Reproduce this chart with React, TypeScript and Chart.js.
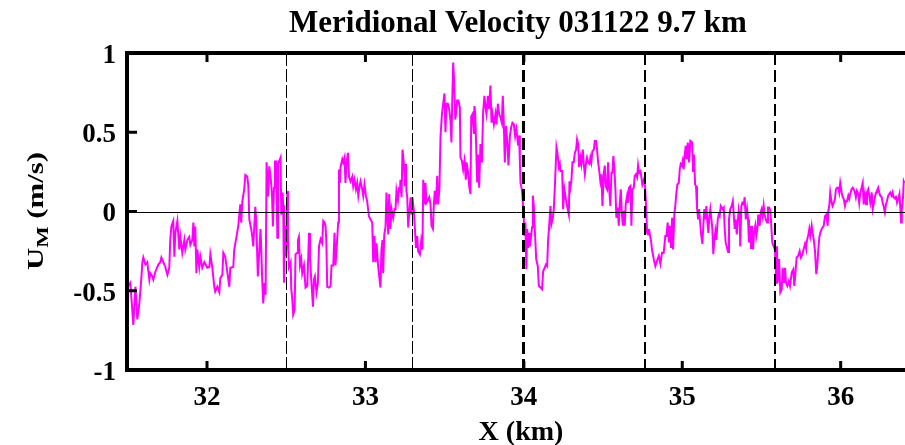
import React, { useEffect, useRef } from "react";
import { Chart, registerables } from "chart.js";

Chart.register(...registerables);

// ---- text ----
const TITLE = "Meridional Velocity 031122 9.7 km";
const X_LABEL = "X (km)";
const Y_LABEL_MAIN = "U";
const Y_LABEL_SUB = "M";
const Y_LABEL_REST = " (m/s)";

// ---- axes ----
const X_MIN = 31.495;
const X_MAX = 36.406;
const Y_MIN = -1;
const Y_MAX = 1;
const xTicks = [32, 33, 34, 35, 36];
const yTicks = [-1, -0.5, 0, 0.5, 1];

// leg boundaries (km) drawn as dashed vertical lines
const legBoundaries = [32.498, 33.294, 33.997, 34.765, 35.585];

// ---- data: [X (km), U_M (m/s)] by leg ----
const leg1: [number, number][] = [
  [31.503, -0.47], [31.516, -0.45], [31.535, -0.715], [31.548, -0.475], [31.56, -0.68], [31.573, -0.58],
  [31.585, -0.43], [31.592, -0.32], [31.598, -0.29], [31.611, -0.335], [31.623, -0.32], [31.636, -0.43],
  [31.642, -0.39], [31.655, -0.41], [31.661, -0.43], [31.674, -0.38], [31.693, -0.335], [31.705, -0.32],
  [31.712, -0.29], [31.724, -0.32], [31.737, -0.35], [31.75, -0.4], [31.762, -0.355], [31.768, -0.18],
  [31.775, -0.095], [31.787, -0.06], [31.794, -0.285], [31.8, -0.135], [31.813, -0.06], [31.825, -0.24],
  [31.832, -0.16], [31.844, -0.26], [31.857, -0.18], [31.863, -0.24], [31.876, -0.18], [31.888, -0.16],
  [31.895, -0.21], [31.907, -0.18], [31.914, -0.07], [31.92, -0.22], [31.926, -0.095], [31.933, -0.39],
  [31.939, -0.24], [31.951, -0.35], [31.958, -0.285], [31.97, -0.355], [31.983, -0.32], [32.002, -0.355],
  [32.015, -0.35], [32.021, -0.27], [32.033, -0.35], [32.046, -0.475], [32.052, -0.505], [32.065, -0.475],
  [32.078, -0.51], [32.084, -0.42], [32.097, -0.4], [32.103, -0.26], [32.115, -0.285], [32.141, -0.475],
  [32.147, -0.355], [32.166, -0.35], [32.172, -0.24], [32.185, -0.165], [32.197, -0.095], [32.21, 0.045],
  [32.216, -0.07], [32.223, 0.065], [32.235, 0.14], [32.242, 0.23], [32.254, 0.22], [32.261, 0.16],
  [32.267, -0.05], [32.279, -0.11], [32.286, -0.16], [32.292, -0.22], [32.305, 0.03], [32.311, -0.07],
  [32.321, -0.41], [32.338, -0.11], [32.344, -0.285], [32.349, -0.45], [32.355, -0.58], [32.363, -0.45],
  [32.37, -0.525], [32.376, 0.31], [32.385, 0.095], [32.393, 0.285], [32.401, 0.22], [32.41, 0.12],
  [32.416, -0.095], [32.423, 0.15], [32.429, 0.315], [32.437, 0.315], [32.444, -0.165], [32.448, 0.3],
  [32.456, 0.32], [32.464, 0.34], [32.469, -0.02], [32.477, 0.12], [32.481, 0.04], [32.486, -0.45],
  [32.49, -0.09],
];

const leg2: [number, number][] = [
  [32.499, -0.285], [32.507, 0.13], [32.511, -0.16], [32.517, -0.35], [32.528, -0.32], [32.532, -0.49],
  [32.538, -0.55], [32.544, -0.65], [32.553, -0.62], [32.559, -0.27], [32.57, -0.26], [32.574, -0.18],
  [32.58, -0.16], [32.587, -0.34], [32.595, -0.3], [32.601, -0.39], [32.612, -0.34], [32.622, -0.48],
  [32.633, -0.47], [32.644, -0.135], [32.65, -0.285], [32.658, -0.43], [32.669, -0.6], [32.675, -0.43],
  [32.681, -0.41], [32.691, -0.51], [32.7, -0.45], [32.707, -0.22], [32.717, -0.175], [32.727, -0.2],
  [32.734, -0.06], [32.742, -0.07], [32.748, -0.09], [32.753, -0.18], [32.759, -0.475], [32.77, -0.48],
  [32.78, -0.47], [32.786, -0.34], [32.797, -0.34], [32.805, -0.135], [32.811, -0.34], [32.818, -0.24],
  [32.828, -0.07], [32.833, 0.265], [32.839, 0.18], [32.843, 0.28], [32.854, 0.33], [32.86, 0.31],
  [32.868, 0.34], [32.874, 0.18], [32.881, 0.31], [32.89, 0.37], [32.896, 0.22], [32.906, 0.19],
  [32.917, 0.22], [32.923, 0.16], [32.931, 0.2], [32.94, 0.14], [32.948, 0.18], [32.955, 0.1],
  [32.963, 0.16], [32.969, 0.19], [32.98, 0.14], [32.986, 0.1], [32.994, 0.17], [33.003, 0.1],
  [33.011, 0.065], [33.022, -0.03], [33.032, -0.05], [33.043, -0.07], [33.049, -0.32], [33.057, -0.155],
  [33.064, -0.32], [33.07, -0.2], [33.079, -0.33], [33.085, -0.39], [33.095, -0.48], [33.101, -0.24],
  [33.108, -0.18], [33.112, -0.39], [33.119, -0.145], [33.127, -0.095], [33.133, 0.12], [33.144, -0.145],
  [33.15, 0.11], [33.158, -0.11], [33.165, 0.015], [33.175, -0.04], [33.184, 0.015], [33.19, 0.015],
  [33.196, 0.13], [33.205, 0.07], [33.211, 0.14], [33.218, 0.13], [33.221, 0.2], [33.228, 0.09],
  [33.234, 0.39], [33.243, 0.3], [33.249, 0.16], [33.256, 0.3], [33.259, 0.13], [33.264, 0.09],
  [33.27, -0.1], [33.276, -0.02], [33.285, 0.09], [33.291, -0.02],
];

const leg3: [number, number][] = [
  [33.297, 0.09], [33.306, 0.005], [33.312, -0.1], [33.319, -0.23], [33.327, -0.155], [33.333, -0.25],
  [33.344, -0.27], [33.352, -0.185], [33.36, -0.24], [33.365, 0.2], [33.373, 0.045], [33.379, 0.18],
  [33.385, 0.055], [33.394, 0.07], [33.403, 0.09], [33.411, 0.045], [33.417, -0.09], [33.426, -0.11],
  [33.432, 0.045], [33.438, 0.13], [33.445, 0.045], [33.453, 0.225], [33.459, 0.045], [33.467, 0.14],
  [33.474, 0.47], [33.483, 0.615], [33.491, 0.68], [33.499, 0.745], [33.505, 0.5], [33.512, 0.68],
  [33.52, 0.68], [33.529, 0.645], [33.537, 0.57], [33.543, 0.435], [33.549, 0.74], [33.554, 0.94],
  [33.56, 0.825], [33.567, 0.58], [33.573, 0.625], [33.579, 0.7], [33.587, 0.7], [33.596, 0.655],
  [33.6, 0.34], [33.609, 0.32], [33.617, 0.265], [33.625, 0.32], [33.634, 0.2], [33.638, 0.31],
  [33.647, 0.255], [33.655, 0.16], [33.663, 0.11], [33.668, 0.6], [33.676, 0.615], [33.685, 0.49],
  [33.688, 0.665], [33.693, 0.615], [33.699, 0.415], [33.705, 0.19], [33.71, 0.36], [33.718, 0.15],
  [33.726, 0.425], [33.735, 0.31], [33.743, 0.625], [33.751, 0.73], [33.758, 0.655], [33.764, 0.615],
  [33.773, 0.73], [33.781, 0.645], [33.789, 0.795], [33.796, 0.56], [33.802, 0.615], [33.811, 0.55],
  [33.821, 0.615], [33.827, 0.55], [33.836, 0.68], [33.844, 0.615], [33.852, 0.595], [33.861, 0.56],
  [33.867, 0.73], [33.874, 0.54], [33.88, 0.31], [33.888, 0.54], [33.895, 0.445], [33.903, 0.29],
  [33.912, 0.475], [33.92, 0.53], [33.928, 0.56], [33.937, 0.55], [33.945, 0.475], [33.953, 0.52],
  [33.964, 0.415], [33.97, 0.48], [33.975, 0.31], [33.979, 0.18], [33.987, 0.14], [33.991, 0.1],
];

const leg4: [number, number][] = [
  [34.0, -0.05], [34.004, -0.155], [34.01, -0.07], [34.016, -0.365], [34.021, -0.11], [34.027, -0.23],
  [34.033, -0.135], [34.038, -0.22], [34.046, -0.155], [34.052, -0.1], [34.057, 0.1], [34.063, 0.035],
  [34.069, -0.11], [34.078, -0.3], [34.088, -0.345], [34.095, -0.47], [34.105, -0.48], [34.115, -0.49],
  [34.122, -0.375], [34.13, -0.36], [34.139, -0.335], [34.147, -0.345], [34.153, -0.185], [34.16, -0.09],
  [34.168, 0.035], [34.174, -0.08], [34.183, -0.04], [34.189, 0.015], [34.196, 0.16], [34.202, 0.31],
  [34.206, 0.405], [34.212, 0.37], [34.221, 0.28], [34.227, 0.3], [34.231, 0.255], [34.242, 0.255],
  [34.248, 0.015], [34.256, 0.14], [34.265, 0.08], [34.273, 0.035], [34.284, -0.02], [34.288, 0.19],
  [34.294, 0.15], [34.3, 0.19], [34.307, 0.31], [34.315, 0.31], [34.322, 0.37], [34.33, 0.39],
  [34.336, 0.455], [34.343, 0.425], [34.349, 0.28], [34.357, 0.34], [34.363, 0.3], [34.372, 0.39],
  [34.379, 0.29], [34.385, 0.235], [34.393, 0.31], [34.399, 0.34], [34.406, 0.31], [34.414, 0.3],
  [34.42, 0.34], [34.426, 0.31], [34.433, 0.38], [34.442, 0.39], [34.448, 0.445], [34.456, 0.445],
  [34.462, 0.39], [34.469, 0.31], [34.475, 0.265], [34.483, 0.19], [34.49, 0.235], [34.496, 0.035],
  [34.505, 0.245], [34.511, 0.29], [34.517, 0.16], [34.526, 0.14], [34.532, 0.31], [34.538, 0.16],
  [34.546, 0.035], [34.553, 0.245], [34.559, 0.245], [34.565, 0.35], [34.572, 0.265], [34.578, 0.14],
  [34.584, -0.04], [34.593, 0.025], [34.599, -0.09], [34.606, 0.055], [34.612, 0.14], [34.618, -0.005],
  [34.625, -0.09], [34.631, 0.005], [34.637, -0.09], [34.643, 0.045], [34.652, 0.1], [34.658, 0.055],
  [34.664, 0.15], [34.673, 0.16], [34.679, -0.09], [34.685, 0.14], [34.694, 0.15], [34.7, 0.225],
  [34.707, 0.235], [34.715, 0.215], [34.721, 0.29], [34.727, 0.245], [34.736, 0.255], [34.742, 0.215],
  [34.748, 0.17], [34.757, 0.2], [34.765, 0.16],
];

const leg5: [number, number][] = [
  [34.773, 0.015], [34.778, -0.135], [34.784, -0.145], [34.79, -0.11], [34.797, -0.155], [34.803, -0.185],
  [34.809, -0.24], [34.82, -0.3], [34.83, -0.345], [34.841, -0.31], [34.852, -0.28], [34.862, -0.33],
  [34.872, -0.26], [34.883, -0.26], [34.893, -0.155], [34.9, -0.155], [34.908, -0.07], [34.915, -0.195],
  [34.921, -0.09], [34.929, -0.23], [34.936, -0.04], [34.942, -0.24], [34.95, -0.02], [34.956, 0.035],
  [34.963, 0.12], [34.969, 0.17], [34.978, 0.18], [34.984, 0.265], [34.99, 0.3], [34.997, 0.29],
  [35.003, 0.32], [35.009, 0.265], [35.016, 0.36], [35.022, 0.415], [35.028, 0.33], [35.035, 0.435],
  [35.043, 0.31], [35.051, 0.445], [35.062, 0.435], [35.068, 0.255], [35.074, 0.36], [35.081, 0.17],
  [35.087, 0.16], [35.093, 0.025], [35.1, -0.05], [35.106, 0.015], [35.112, -0.06], [35.119, -0.145],
  [35.127, -0.205], [35.133, -0.09], [35.139, 0.015], [35.146, -0.05], [35.152, 0.035], [35.158, -0.06],
  [35.165, -0.135], [35.171, -0.03], [35.177, 0.015], [35.184, -0.05], [35.19, -0.11], [35.196, -0.27],
  [35.202, -0.18], [35.209, -0.125], [35.215, -0.18], [35.224, -0.05], [35.23, -0.02], [35.236, -0.03],
  [35.243, 0.035], [35.249, 0.025], [35.255, 0.015], [35.262, 0.025], [35.268, -0.11], [35.274, -0.195],
  [35.283, -0.23], [35.289, -0.255], [35.295, -0.05], [35.303, 0.015], [35.312, 0.035], [35.319, 0.065],
  [35.325, -0.02], [35.331, -0.11], [35.337, -0.05], [35.344, -0.145], [35.35, -0.07], [35.356, 0.005],
  [35.363, -0.05], [35.366, -0.22], [35.373, 0.035], [35.379, 0.055], [35.388, 0.045], [35.394, 0.09],
  [35.401, -0.05], [35.409, 0.015], [35.415, -0.05], [35.421, -0.195], [35.428, -0.09], [35.434, -0.23],
  [35.44, -0.09], [35.447, -0.24], [35.453, -0.135], [35.461, -0.09], [35.467, -0.155], [35.474, -0.11],
  [35.48, -0.02], [35.489, -0.09], [35.495, -0.005], [35.501, 0.015], [35.508, -0.03], [35.514, 0.035],
  [35.52, -0.02], [35.527, -0.05], [35.535, -0.07], [35.541, 0.025], [35.548, 0.025], [35.556, 0.005],
  [35.562, -0.09], [35.568, -0.195], [35.577, -0.22], [35.585, -0.24],
];

const leg6: [number, number][] = [
  [35.594, -0.45], [35.598, -0.22], [35.602, -0.45], [35.611, -0.3], [35.619, -0.51], [35.628, -0.49],
  [35.634, -0.355], [35.642, -0.45], [35.649, -0.355], [35.655, -0.45], [35.663, -0.47], [35.672, -0.44],
  [35.68, -0.47], [35.691, -0.385], [35.701, -0.365], [35.707, -0.47], [35.714, -0.395], [35.722, -0.29],
  [35.732, -0.28], [35.741, -0.25], [35.749, -0.29], [35.758, -0.27], [35.766, -0.24], [35.775, -0.205],
  [35.781, -0.23], [35.787, -0.185], [35.796, -0.145], [35.802, -0.11], [35.808, -0.155], [35.817, -0.09],
  [35.823, -0.135], [35.831, -0.185], [35.838, -0.25], [35.846, -0.395], [35.852, -0.345], [35.859, -0.24],
  [35.865, -0.165], [35.871, -0.135], [35.88, -0.11], [35.886, -0.1], [35.893, -0.09], [35.901, -0.03],
  [35.909, -0.02], [35.918, -0.09], [35.922, 0.005], [35.928, 0.035], [35.934, 0.12], [35.943, 0.055],
  [35.949, 0.035], [35.956, 0.055], [35.964, 0.08], [35.97, 0.14], [35.977, 0.15], [35.985, 0.15],
  [35.991, 0.12], [35.997, 0.18], [36.006, 0.12], [36.013, 0.09], [36.019, 0.08], [36.027, 0.035],
  [36.033, 0.065], [36.04, 0.065], [36.048, 0.1], [36.054, 0.08], [36.06, 0.11], [36.069, 0.14],
  [36.076, 0.15], [36.082, 0.14], [36.09, 0.12], [36.096, 0.09], [36.103, 0.13], [36.111, 0.11],
  [36.117, 0.055], [36.124, 0.12], [36.132, 0.15], [36.139, 0.18], [36.145, 0.045], [36.153, 0.11],
  [36.16, 0.045], [36.166, 0.12], [36.174, 0.14], [36.18, 0.1], [36.187, 0.055], [36.196, 0.12],
  [36.202, 0.015], [36.208, 0.045], [36.216, 0.09], [36.223, 0.12], [36.229, 0.13], [36.237, 0.15],
  [36.243, 0.12], [36.25, 0.1], [36.259, 0.09], [36.265, 0.055], [36.271, 0.035], [36.279, -0.005],
  [36.286, 0.045], [36.292, 0.065], [36.3, 0.1], [36.306, 0.11], [36.313, 0.12], [36.322, 0.1],
  [36.328, 0.12], [36.334, 0.09], [36.343, 0.08], [36.349, 0.1], [36.356, 0.055], [36.364, 0.08],
  [36.371, 0.11], [36.377, 0.015], [36.381, -0.07], [36.386, 0.015], [36.393, 0.08], [36.398, 0.19],
  [36.402, 0.18],
];

const legs = [leg1, leg2, leg3, leg4, leg5, leg6];

const FONT = "'Liberation Serif', 'Times New Roman', serif";

const decorPlugin = {
  id: "decor",
  afterDatasetsDraw(chart: any) {
    const { ctx, chartArea: a, scales } = chart;
    const xs = scales.x;
    const ys = scales.y;
    ctx.save();
    ctx.strokeStyle = "#000";

    // zero line
    const y0 = Math.round(ys.getPixelForValue(0)) + 0.5;
    ctx.lineWidth = 1;
    ctx.beginPath();
    ctx.moveTo(a.left, y0);
    ctx.lineTo(a.right + 10, y0);
    ctx.stroke();

    // dashed leg boundaries
    const widths = [1, 1, 3, 2, 2];
    legBoundaries.forEach((b, i) => {
      const w = widths[i];
      const px = Math.round(xs.getPixelForValue(b)) + (w % 2 ? 0.5 : 0);
      ctx.lineWidth = w;
      ctx.setLineDash(w === 1 ? [13, 3] : [12, 5]);
      ctx.beginPath();
      ctx.moveTo(px, a.top);
      ctx.lineTo(px, a.bottom);
      ctx.stroke();
    });
    ctx.setLineDash([]);

    // frame (right edge lies just outside the picture)
    ctx.lineWidth = 4;
    ctx.beginPath();
    ctx.moveTo(a.right + 10, a.top);
    ctx.lineTo(a.left, a.top);
    ctx.lineTo(a.left, a.bottom);
    ctx.lineTo(a.right + 10, a.bottom);
    ctx.stroke();

    // inward tick marks
    ctx.lineWidth = 3;
    xTicks.forEach((v) => {
      const px = xs.getPixelForValue(v);
      ctx.beginPath();
      ctx.moveTo(px, a.bottom);
      ctx.lineTo(px, a.bottom - 9);
      ctx.moveTo(px, a.top);
      ctx.lineTo(px, a.top + 9);
      ctx.stroke();
    });
    yTicks.forEach((v) => {
      const py = ys.getPixelForValue(v);
      ctx.beginPath();
      ctx.moveTo(a.left, py);
      ctx.lineTo(a.left + 10, py);
      ctx.stroke();
    });
    ctx.restore();
  },
  afterDraw(chart: any) {
    const { ctx, chartArea: a } = chart;
    ctx.save();
    ctx.fillStyle = "#000";
    const cx = (a.left + a.right) / 2 + 2;

    // title
    ctx.font = `bold 31px ${FONT}`;
    ctx.textAlign = "center";
    ctx.textBaseline = "alphabetic";
    ctx.fillText(TITLE, cx, 32);

    // x label
    ctx.font = `bold 28px ${FONT}`;
    ctx.fillText(X_LABEL, cx + 3, 440);

    // y label (rotated, with subscript)
    const mainFont = `bold 23px ${FONT}`;
    const subFont = `bold 17px ${FONT}`;
    ctx.font = mainFont;
    const wU = ctx.measureText(Y_LABEL_MAIN).width;
    const wRest = ctx.measureText(Y_LABEL_REST).width;
    ctx.font = subFont;
    const wM = ctx.measureText(Y_LABEL_SUB).width;
    const total = wU + wM + wRest;
    const stretch = 118 / total;
    ctx.translate(43, 211);
    ctx.rotate(-Math.PI / 2);
    ctx.scale(stretch, 1);
    ctx.textAlign = "left";
    let xx = -total / 2;
    ctx.font = mainFont;
    ctx.fillText(Y_LABEL_MAIN, xx, 0);
    xx += wU;
    ctx.font = subFont;
    ctx.fillText(Y_LABEL_SUB, xx, 5);
    xx += wM;
    ctx.font = mainFont;
    ctx.fillText(Y_LABEL_REST, xx, 0);
    ctx.restore();
  },
};

export default function App() {
  const ref = useRef<HTMLCanvasElement | null>(null);

  useEffect(() => {
    document.body.style.margin = "0";
    document.body.style.overflow = "hidden";
    const canvas = ref.current;
    if (!canvas) return;
    const points = legs.flat().map(([x, y]) => ({ x, y }));
    const tickFont = { family: FONT, weight: "bold" as const, size: 27 };
    const chart = new Chart(canvas, {
      type: "line",
      data: {
        datasets: [
          {
            data: points,
            borderColor: "#ff00ff",
            borderWidth: 2,
            pointRadius: 0,
            tension: 0,
            fill: false,
          },
        ],
      },
      options: {
        animation: false,
        responsive: false,
        devicePixelRatio: 1,
        parsing: false,
        layout: { padding: { top: 53, right: 0, left: 0, bottom: 0 } },
        plugins: {
          legend: { display: false },
          title: { display: false },
          tooltip: { enabled: false },
        },
        scales: {
          x: {
            type: "linear",
            min: X_MIN,
            max: X_MAX,
            grid: { display: false, drawTicks: false },
            border: { display: false },
            afterBuildTicks: (s: any) => {
              s.ticks = xTicks.map((v) => ({ value: v }));
            },
            afterFit: (s: any) => {
              s.height = 75;
            },
            ticks: {
              color: "#000",
              font: tickFont,
              padding: 12,
              maxRotation: 0,
              autoSkip: false,
              callback: (v: any) => String(v),
            },
          },
          y: {
            type: "linear",
            min: Y_MIN,
            max: Y_MAX,
            grid: { display: false, drawTicks: false },
            border: { display: false },
            afterBuildTicks: (s: any) => {
              s.ticks = yTicks.map((v) => ({ value: v }));
            },
            afterFit: (s: any) => {
              s.width = 127;
            },
            ticks: {
              color: "#000",
              font: tickFont,
              padding: 11,
              labelOffset: 3,
              callback: (v: any) => String(v),
            },
          },
        },
      },
      plugins: [decorPlugin],
    });
    return () => chart.destroy();
  }, []);

  return (
    <div style={{ width: 905, height: 445, overflow: "hidden", background: "#fff" }}>
      <canvas ref={ref} width={905} height={445} style={{ display: "block" }} />
    </div>
  );
}
